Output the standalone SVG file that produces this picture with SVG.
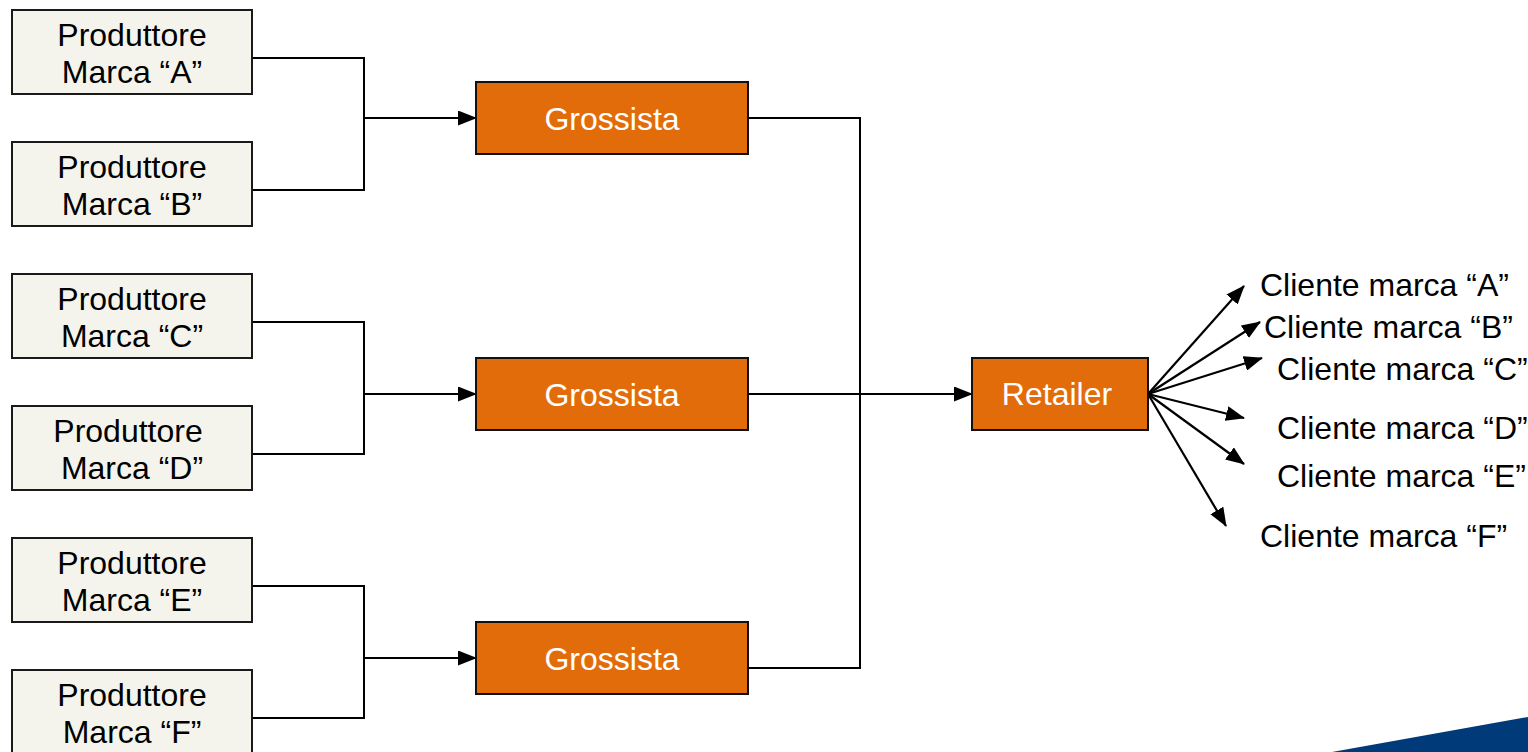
<svg xmlns="http://www.w3.org/2000/svg" width="1528" height="752" viewBox="0 0 1528 752">
<style>
.prod{fill:#F4F4EC;stroke:#1a1a1a;stroke-width:2}
.org{fill:#E36C0A;stroke:#111;stroke-width:2}
.t{font-family:"Liberation Sans",Arial,sans-serif;font-size:32px;fill:#000}
.tw{font-family:"Liberation Sans",Arial,sans-serif;font-size:32px;fill:#fff;text-anchor:middle}
.c{text-anchor:middle}
.ln{fill:none;stroke:#000;stroke-width:2}
.ar{fill:none;stroke:#000;stroke-width:2.2}
</style>
<defs>
<marker id="ah2" viewBox="0 0 19 15" refX="18" refY="7.5" markerWidth="19" markerHeight="15" orient="auto" markerUnits="userSpaceOnUse">
<path d="M0,0 L19,7.5 L0,15 z" fill="#000"/>
</marker>
</defs>
<rect width="1528" height="752" fill="#fff"/>
<g id="connectors">
<path class="ln" d="M252,58 H364 V190 H252"/>
<path class="ar" d="M364,118 H476" marker-end="url(#ah2)"/>
<path class="ln" d="M252,322 H364 V454 H252"/>
<path class="ar" d="M364,394 H476" marker-end="url(#ah2)"/>
<path class="ln" d="M252,586 H364 V718 H252"/>
<path class="ar" d="M364,658 H476" marker-end="url(#ah2)"/>
<path class="ln" d="M748,118 H860 V668 H748"/>
<path class="ar" d="M748,394 H972" marker-end="url(#ah2)"/>
<path class="ar" d="M1148,394 L1244,286" marker-end="url(#ah2)"/>
<path class="ar" d="M1148,394 L1260,322" marker-end="url(#ah2)"/>
<path class="ar" d="M1148,394 L1262,358" marker-end="url(#ah2)"/>
<path class="ar" d="M1148,394 L1244,418" marker-end="url(#ah2)"/>
<path class="ar" d="M1148,394 L1244,464" marker-end="url(#ah2)"/>
<path class="ar" d="M1148,394 L1226,526" marker-end="url(#ah2)"/>
</g>
<g id="prodA"><rect class="prod" x="12" y="10" width="240" height="84"/><text class="t c" x="132" y="46">Produttore</text><text class="t c" x="132" y="83">Marca “A”</text></g>
<g id="prodB"><rect class="prod" x="12" y="142" width="240" height="84"/><text class="t c" x="132" y="178">Produttore</text><text class="t c" x="132" y="215">Marca “B”</text></g>
<g id="prodC"><rect class="prod" x="12" y="274" width="240" height="84"/><text class="t c" x="132" y="310">Produttore</text><text class="t c" x="132" y="347">Marca “C”</text></g>
<g id="prodD"><rect class="prod" x="12" y="406" width="240" height="84"/><text class="t c" x="128" y="442">Produttore</text><text class="t c" x="132" y="479">Marca “D”</text></g>
<g id="prodE"><rect class="prod" x="12" y="538" width="240" height="84"/><text class="t c" x="132" y="574">Produttore</text><text class="t c" x="132" y="611">Marca “E”</text></g>
<g id="prodF"><rect class="prod" x="12" y="670" width="240" height="86"/><text class="t c" x="132" y="706">Produttore</text><text class="t c" x="132" y="743">Marca “F”</text></g>
<g id="gross1"><rect class="org" x="476" y="82" width="272" height="72"/><text class="tw" x="612" y="130">Grossista</text></g>
<g id="gross2"><rect class="org" x="476" y="358" width="272" height="72"/><text class="tw" x="612" y="406">Grossista</text></g>
<g id="gross3"><rect class="org" x="476" y="622" width="272" height="72"/><text class="tw" x="612" y="670">Grossista</text></g>
<g id="retailer"><rect class="org" x="972" y="358" width="176" height="72"/><text class="tw" x="1057" y="405">Retailer</text></g>
<g id="clienti">
<text class="t" x="1260" y="296">Cliente marca “A”</text>
<text class="t" x="1264" y="338">Cliente marca “B”</text>
<text class="t" x="1277" y="380">Cliente marca “C”</text>
<text class="t" x="1277" y="439">Cliente marca “D”</text>
<text class="t" x="1277" y="487">Cliente marca “E”</text>
<text class="t" x="1260" y="547">Cliente marca “F”</text>
</g>
<polygon points="1332,752 1528,717 1528,752" fill="#003A78"/>
</svg>
